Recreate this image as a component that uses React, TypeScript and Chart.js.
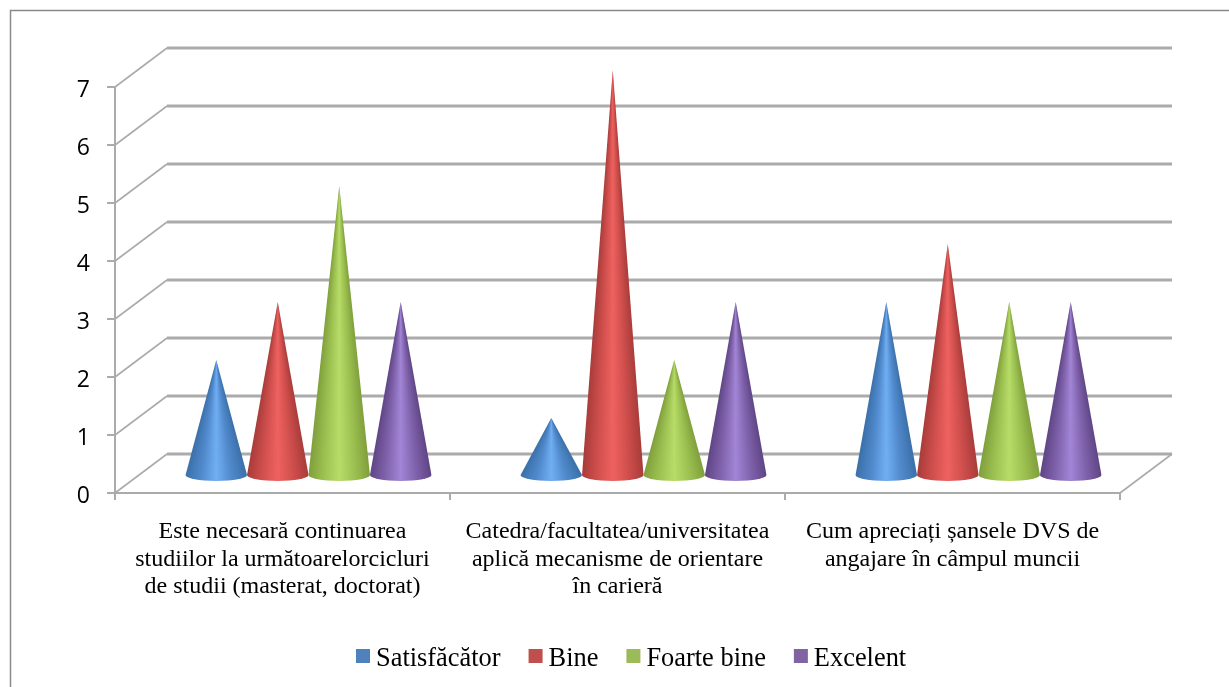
import React, { useEffect, useRef } from "react";
import { Chart, registerables } from "chart.js";

Chart.register(...registerables);

const categories = [
  ["Este necesară continuarea", "studiilor la următoarelorcicluri", "de studii (masterat, doctorat)"],
  ["Catedra/facultatea/universitatea", "aplică mecanisme de orientare", "în carieră"],
  ["Cum apreciați șansele DVS de", "angajare în câmpul muncii"],
];
const seriesNames = ["Satisfăcător", "Bine", "Foarte bine", "Excelent"];
const satisfacator = [2, 1, 3];
const bine = [3, 7, 4];
const foarteBine = [5, 2, 3];
const excelent = [3, 3, 3];
const legendColors = ["#4f81bd", "#c0504d", "#9bbb59", "#8064a2"];
const coneEdge = ["#3b70a8", "#a83c3a", "#7f9f3c", "#5f4585"];
const coneMid = ["#5089cc", "#d04f4d", "#9dc151", "#8062ac"];
const coneLight = ["#70aef2", "#ee6260", "#b8dc68", "#a285d6"];
const GRID = "#ababab";
const FRAME = "#8a8a8a";
const DEPTH_X = 52;
const DEPTH_Y = 39;
const CONE_DX = 26;
const CONE_DY = 17;
const SERIF = "'Liberation Serif', serif";

const wallPlugin = {
  id: "wall",
  beforeDatasetsDraw(chart: any) {
    const { ctx, chartArea, scales } = chart;
    const y = scales.y;
    ctx.save();
    ctx.strokeStyle = FRAME;
    ctx.lineWidth = 1.5;
    ctx.beginPath();
    ctx.moveTo(10.5, chart.height);
    ctx.lineTo(10.5, 10.5);
    ctx.lineTo(chart.width, 10.5);
    ctx.stroke();
    ctx.strokeStyle = GRID;
    for (const t of y.ticks) {
      const py = y.getPixelForValue(t.value);
      const by = py - DEPTH_Y;
      ctx.lineWidth = 1.6;
      ctx.beginPath();
      ctx.moveTo(chartArea.left, py);
      ctx.lineTo(chartArea.left + DEPTH_X, by);
      ctx.stroke();
      ctx.lineWidth = 3;
      ctx.beginPath();
      ctx.moveTo(chartArea.left + DEPTH_X, by);
      ctx.lineTo(chartArea.right + DEPTH_X, by);
      ctx.stroke();
      if (t.value === 0) {
        ctx.lineWidth = 1.6;
        ctx.beginPath();
        ctx.moveTo(chartArea.right + DEPTH_X, by);
        ctx.lineTo(chartArea.right, py);
        ctx.stroke();
      }
    }
    ctx.restore();
  },
  beforeDatasetDraw() {
    return false;
  },
  afterDatasetsDraw(chart: any) {
    const { ctx } = chart;
    chart.data.datasets.forEach((_: any, i: number) => {
      const meta = chart.getDatasetMeta(i);
      for (const el of meta.data) {
        const cx = el.x + CONE_DX;
        const apex = el.y - CONE_DY;
        const by = el.base - CONE_DY;
        const r = el.width / 2;
        const ry = 6;
        const a = Math.atan(r / (by - apex));
        const g = ctx.createConicGradient(Math.PI / 2 - a, cx, apex);
        const span = (2 * a) / (2 * Math.PI);
        g.addColorStop(0, coneEdge[i]);
        g.addColorStop(span * 0.25, coneMid[i]);
        g.addColorStop(span * 0.5, coneLight[i]);
        g.addColorStop(span * 0.75, coneMid[i]);
        g.addColorStop(span, coneEdge[i]);
        g.addColorStop(1, coneEdge[i]);
        ctx.save();
        ctx.fillStyle = g;
        ctx.beginPath();
        ctx.moveTo(cx, apex);
        ctx.lineTo(cx + r, by);
        ctx.ellipse(cx, by, r, ry, 0, 0, Math.PI);
        ctx.closePath();
        ctx.fill();
        ctx.restore();
      }
    });
  },
  afterDraw(chart: any) {
    const { ctx } = chart;
    ctx.save();
    ctx.font = `26.4px ${SERIF}`;
    ctx.textBaseline = "alphabetic";
    let x = 356;
    chart.data.datasets.forEach((d: any) => {
      ctx.fillStyle = d.backgroundColor;
      ctx.fillRect(x, 649, 14, 14);
      ctx.fillStyle = "#000";
      ctx.fillText(d.label, x + 20, 666);
      x += 20 + ctx.measureText(d.label).width + 28;
    });
    ctx.restore();
  },
};

export default function App() {
  const ref = useRef<HTMLCanvasElement>(null);
  useEffect(() => {
    const values = [satisfacator, bine, foarteBine, excelent];
    const chart = new Chart(ref.current as HTMLCanvasElement, {
      type: "bar",
      data: {
        labels: categories as any,
        datasets: seriesNames.map((label, i) => ({
          label,
          data: values[i],
          backgroundColor: legendColors[i],
          categoryPercentage: 0.734,
          barPercentage: 1,
        })),
      },
      options: {
        responsive: false,
        animation: false,
        layout: { padding: { top: 87, right: 109, left: 0, bottom: 0 } },
        plugins: { legend: { display: false }, tooltip: { enabled: false } },
        scales: {
          x: {
            afterFit: (s: any) => {
              s.height = 194;
            },
            grid: { drawOnChartArea: false, color: GRID, lineWidth: 2, tickLength: 7, offset: true },
            border: { color: GRID, width: 2 },
            ticks: {
              maxRotation: 0,
              minRotation: 0,
              autoSkip: false,
              color: "#000",
              padding: 18,
              font: { family: SERIF, size: 24, lineHeight: 1.146 },
            },
          },
          y: {
            min: 0,
            max: 7,
            afterFit: (s: any) => {
              s.width = 115;
            },
            grid: { drawOnChartArea: false, color: GRID, lineWidth: 2, tickLength: 8 },
            border: { color: GRID, width: 2 },
            ticks: {
              stepSize: 1,
              autoSkip: false,
              color: "#000",
              padding: 17,
              font: { family: "'Open Sans', sans-serif", size: 23, lineHeight: 0.3 },
              callback: (v: any) => ["", String(v)],
            },
          },
        },
      },
      plugins: [wallPlugin as any],
    });
    return () => chart.destroy();
  }, []);
  return (
    <div style={{ position: "fixed", left: 0, top: 0, width: 1229, height: 687, background: "#fff" }}>
      <canvas ref={ref} width={1229} height={687} style={{ display: "block", filter: "blur(0.45px)" }} />
    </div>
  );
}
